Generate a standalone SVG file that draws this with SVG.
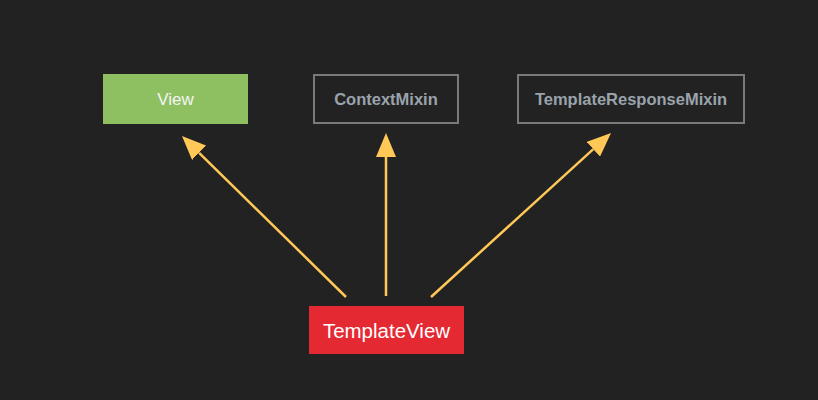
<svg xmlns="http://www.w3.org/2000/svg" width="818" height="400" viewBox="0 0 818 400">
<style>
.lbl{font-family:"Liberation Sans",Arial,sans-serif;text-anchor:middle;dominant-baseline:central}
.mix{fill:#222;stroke:#7a7a7a;stroke-width:2}
.mixt{fill:#9aa3ab;font-weight:bold;font-size:16.5px}
.edge{stroke:#ffc857;stroke-width:2.5;fill:none}
</style>
<defs>
<marker id="ah" viewBox="0 0 24 20" refX="0" refY="10" markerWidth="24" markerHeight="20" markerUnits="userSpaceOnUse" orient="auto">
<path d="M0,0 L24,10 L0,20 z" fill="#ffc857"/>
</marker>
</defs>
<rect width="818" height="400" fill="#222"/>
<g id="edges">
<path class="edge" d="M346,297 L199.1,152.8" marker-end="url(#ah)"/>
<path class="edge" d="M386,296 L386,157" marker-end="url(#ah)"/>
<path class="edge" d="M431,297 L593.3,149.2" marker-end="url(#ah)"/>
</g>
<g id="View">
<rect x="103" y="74" width="145" height="50" fill="#8ec062"/>
<text class="lbl" x="175.5" y="99" fill="#f4f4f4" font-size="17">View</text>
</g>
<g id="ContextMixin">
<rect class="mix" x="314" y="75" width="144" height="48"/>
<text class="lbl mixt" x="386" y="99">ContextMixin</text>
</g>
<g id="TemplateResponseMixin">
<rect class="mix" x="518" y="75" width="226" height="48"/>
<text class="lbl mixt" x="631" y="99">TemplateResponseMixin</text>
</g>
<g id="TemplateView">
<rect x="309" y="306" width="155" height="48" fill="#e52933"/>
<text class="lbl" x="386.5" y="330" fill="#fff" font-size="20.5">TemplateView</text>
</g>
</svg>
